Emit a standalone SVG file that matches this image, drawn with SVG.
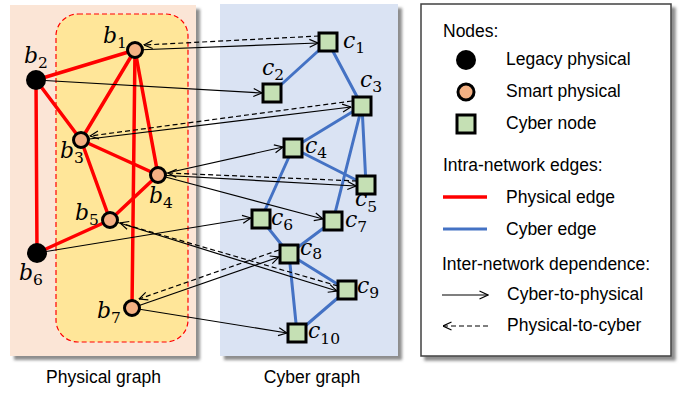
<svg xmlns="http://www.w3.org/2000/svg" width="683" height="394" viewBox="0 0 683 394">
<style>
.sans{font-family:"Liberation Sans",Arial,sans-serif;fill:#000}
.leg{font-size:17.5px}
.cap{font-size:17.5px}
.m{font-family:"DejaVu Serif","Liberation Serif",serif;font-style:italic;font-size:22px;fill:#000}
.s{font-style:normal;font-size:15.5px}
.pe{stroke:#FF0000;stroke-width:3.5;fill:none;stroke-linecap:round}
.ce{stroke:#4472C4;stroke-width:3;fill:none;stroke-linecap:round}
.dep{stroke:#000;stroke-width:1.2;fill:none;marker-end:url(#arr)}
.dash{stroke-dasharray:5 3}
.smart{fill:#F4B183;stroke:#000;stroke-width:3}
.legacy{fill:#000}
.cyber{fill:#C5E0B4;stroke:#000;stroke-width:3}
</style>
<defs>
<marker id="arr" viewBox="0 0 10 10" refX="9.5" refY="5" markerWidth="10" markerHeight="10" markerUnits="userSpaceOnUse" orient="auto">
<path d="M1,1 L9.5,5 L1,9" fill="none" stroke="#000" stroke-width="1.2"/>
</marker>
<filter id="sh" x="-5%" y="-5%" width="115%" height="115%">
<feDropShadow dx="4" dy="4" stdDeviation="1.5" flood-color="#808080" flood-opacity="0.9"/>
</filter>
</defs>
<rect width="683" height="394" fill="#fff"/>

<g id="panels">
<rect x="10" y="5" width="186" height="351" fill="#FBE5D6" filter="url(#sh)"/>
<rect x="56" y="14" width="132" height="328" rx="22" ry="22" fill="#FFE699" stroke="#FF0000" stroke-width="1.2" stroke-dasharray="5 3"/>
<rect x="220" y="4" width="178" height="352" fill="#DAE3F3" filter="url(#sh)"/>
<text class="sans cap" x="103.5" y="383" text-anchor="middle">Physical graph</text>
<text class="sans cap" x="312" y="383" text-anchor="middle">Cyber graph</text>
</g>

<g id="physical-edges">
<line class="pe" x1="36" y1="80" x2="135" y2="50"/>
<line class="pe" x1="36" y1="80" x2="81" y2="140"/>
<line class="pe" x1="36" y1="80" x2="37" y2="253"/>
<line class="pe" x1="135" y1="50" x2="81" y2="140"/>
<line class="pe" x1="135" y1="50" x2="158" y2="175"/>
<line class="pe" x1="135" y1="50" x2="132" y2="308"/>
<line class="pe" x1="81" y1="140" x2="158" y2="175"/>
<line class="pe" x1="81" y1="140" x2="110" y2="220"/>
<line class="pe" x1="158" y1="175" x2="110" y2="220"/>
<line class="pe" x1="110" y1="220" x2="37" y2="253"/>
</g>

<g id="cyber-edges">
<line class="ce" x1="328" y1="42" x2="272" y2="93"/>
<line class="ce" x1="328" y1="42" x2="362" y2="106"/>
<line class="ce" x1="362" y1="106" x2="293" y2="148"/>
<line class="ce" x1="362" y1="106" x2="366" y2="185"/>
<line class="ce" x1="362" y1="106" x2="333" y2="221"/>
<line class="ce" x1="293" y1="148" x2="366" y2="185"/>
<line class="ce" x1="293" y1="148" x2="261" y2="219"/>
<line class="ce" x1="261" y1="219" x2="289" y2="254"/>
<line class="ce" x1="333" y1="221" x2="289" y2="254"/>
<line class="ce" x1="289" y1="254" x2="347" y2="290"/>
<line class="ce" x1="289" y1="254" x2="297" y2="333"/>
<line class="ce" x1="347" y1="290" x2="297" y2="333"/>
</g>

<g id="dependence-edges">
<line class="dep" x1="135" y1="50" x2="318" y2="43"/>
<line class="dep" x1="36" y1="80" x2="262" y2="93"/>
<line class="dep" x1="81" y1="140" x2="351" y2="107"/>
<line class="dep" x1="158" y1="175" x2="283" y2="147"/>
<line class="dep" x1="158" y1="175" x2="356" y2="186"/>
<line class="dep" x1="158" y1="175" x2="323" y2="219"/>
<line class="dep" x1="37" y1="253" x2="251" y2="218"/>
<line class="dep" x1="110" y1="220" x2="337" y2="291"/>
<line class="dep" x1="132" y1="308" x2="279" y2="257"/>
<line class="dep" x1="132" y1="308" x2="287" y2="333"/>
<line class="dep dash" x1="319" y1="36" x2="144" y2="45"/>
<line class="dep dash" x1="352" y1="101" x2="90" y2="136"/>
<line class="dep dash" x1="357" y1="181" x2="168" y2="173"/>
<line class="dep dash" x1="338" y1="286" x2="120" y2="223"/>
<line class="dep dash" x1="279" y1="250" x2="139" y2="299"/>
</g>

<g id="b1"><circle class="smart" cx="135" cy="50" r="7.5"/><text class="m" x="103" y="43">b<tspan class="s" dy="5">1</tspan></text></g>
<g id="b2"><circle class="legacy" cx="36" cy="80" r="10"/><text class="m" x="24" y="63">b<tspan class="s" dy="5">2</tspan></text></g>
<g id="b3"><circle class="smart" cx="81" cy="140" r="7.5"/><text class="m" x="60" y="158">b<tspan class="s" dy="5">3</tspan></text></g>
<g id="b4"><circle class="smart" cx="158" cy="175" r="7.5"/><text class="m" x="149" y="203">b<tspan class="s" dy="5">4</tspan></text></g>
<g id="b5"><circle class="smart" cx="110" cy="220" r="7.5"/><text class="m" x="75" y="220">b<tspan class="s" dy="5">5</tspan></text></g>
<g id="b6"><circle class="legacy" cx="37" cy="253" r="10"/><text class="m" x="19" y="280">b<tspan class="s" dy="5">6</tspan></text></g>
<g id="b7"><circle class="smart" cx="132" cy="308" r="7.5"/><text class="m" x="97" y="318">b<tspan class="s" dy="5">7</tspan></text></g>

<g id="c1"><rect class="cyber" x="319" y="33" width="18" height="18"/><text class="m" x="343" y="48">c<tspan class="s" dy="5">1</tspan></text></g>
<g id="c2"><rect class="cyber" x="263" y="84" width="18" height="18"/><text class="m" x="262" y="75">c<tspan class="s" dy="5">2</tspan></text></g>
<g id="c3"><rect class="cyber" x="353" y="97" width="18" height="18"/><text class="m" x="360" y="87">c<tspan class="s" dy="5">3</tspan></text></g>
<g id="c4"><rect class="cyber" x="284" y="139" width="18" height="18"/><text class="m" x="305" y="153">c<tspan class="s" dy="5">4</tspan></text></g>
<g id="c5"><rect class="cyber" x="357" y="176" width="18" height="18"/><text class="m" x="355" y="206">c<tspan class="s" dy="6">5</tspan></text></g>
<g id="c6"><rect class="cyber" x="252" y="210" width="18" height="18"/><text class="m" x="271" y="225">c<tspan class="s" dy="5">6</tspan></text></g>
<g id="c7"><rect class="cyber" x="324" y="212" width="18" height="18"/><text class="m" x="345" y="227">c<tspan class="s" dy="5">7</tspan></text></g>
<g id="c8"><rect class="cyber" x="280" y="245" width="18" height="18"/><text class="m" x="300" y="255">c<tspan class="s" dy="4">8</tspan></text></g>
<g id="c9"><rect class="cyber" x="338" y="281" width="18" height="18"/><text class="m" x="357" y="293">c<tspan class="s" dy="5">9</tspan></text></g>
<g id="c10"><rect class="cyber" x="288" y="324" width="18" height="18"/><text class="m" x="308" y="338">c<tspan class="s" dy="6">10</tspan></text></g>

<g id="legend">
<rect x="421" y="4" width="250" height="352" fill="#fff" stroke="#404040" stroke-width="1.5" filter="url(#sh)"/>
<text class="sans leg" x="443" y="37">Nodes:</text>
<circle class="legacy" cx="466" cy="60" r="10"/>
<text class="sans leg" x="506" y="65">Legacy physical</text>
<circle class="smart" cx="466" cy="92" r="8"/>
<text class="sans leg" x="506" y="97">Smart physical</text>
<rect class="cyber" x="457" y="115" width="18" height="18"/>
<text class="sans leg" x="506" y="129">Cyber node</text>
<text class="sans leg" x="443" y="171">Intra-network edges:</text>
<line class="pe" x1="443" y1="197" x2="487" y2="197" style="stroke-linecap:butt"/>
<text class="sans leg" x="506" y="203">Physical edge</text>
<line class="ce" x1="443" y1="229" x2="487" y2="229" style="stroke-linecap:butt"/>
<text class="sans leg" x="506" y="235">Cyber edge</text>
<text class="sans leg" x="442" y="270">Inter-network dependence:</text>
<line class="dep" x1="442" y1="295" x2="488" y2="295"/>
<text class="sans leg" x="507" y="300">Cyber-to-physical</text>
<line class="dep dash" x1="488" y1="326" x2="443" y2="326"/>
<text class="sans leg" x="507" y="331">Physical-to-cyber</text>
</g>
</svg>
